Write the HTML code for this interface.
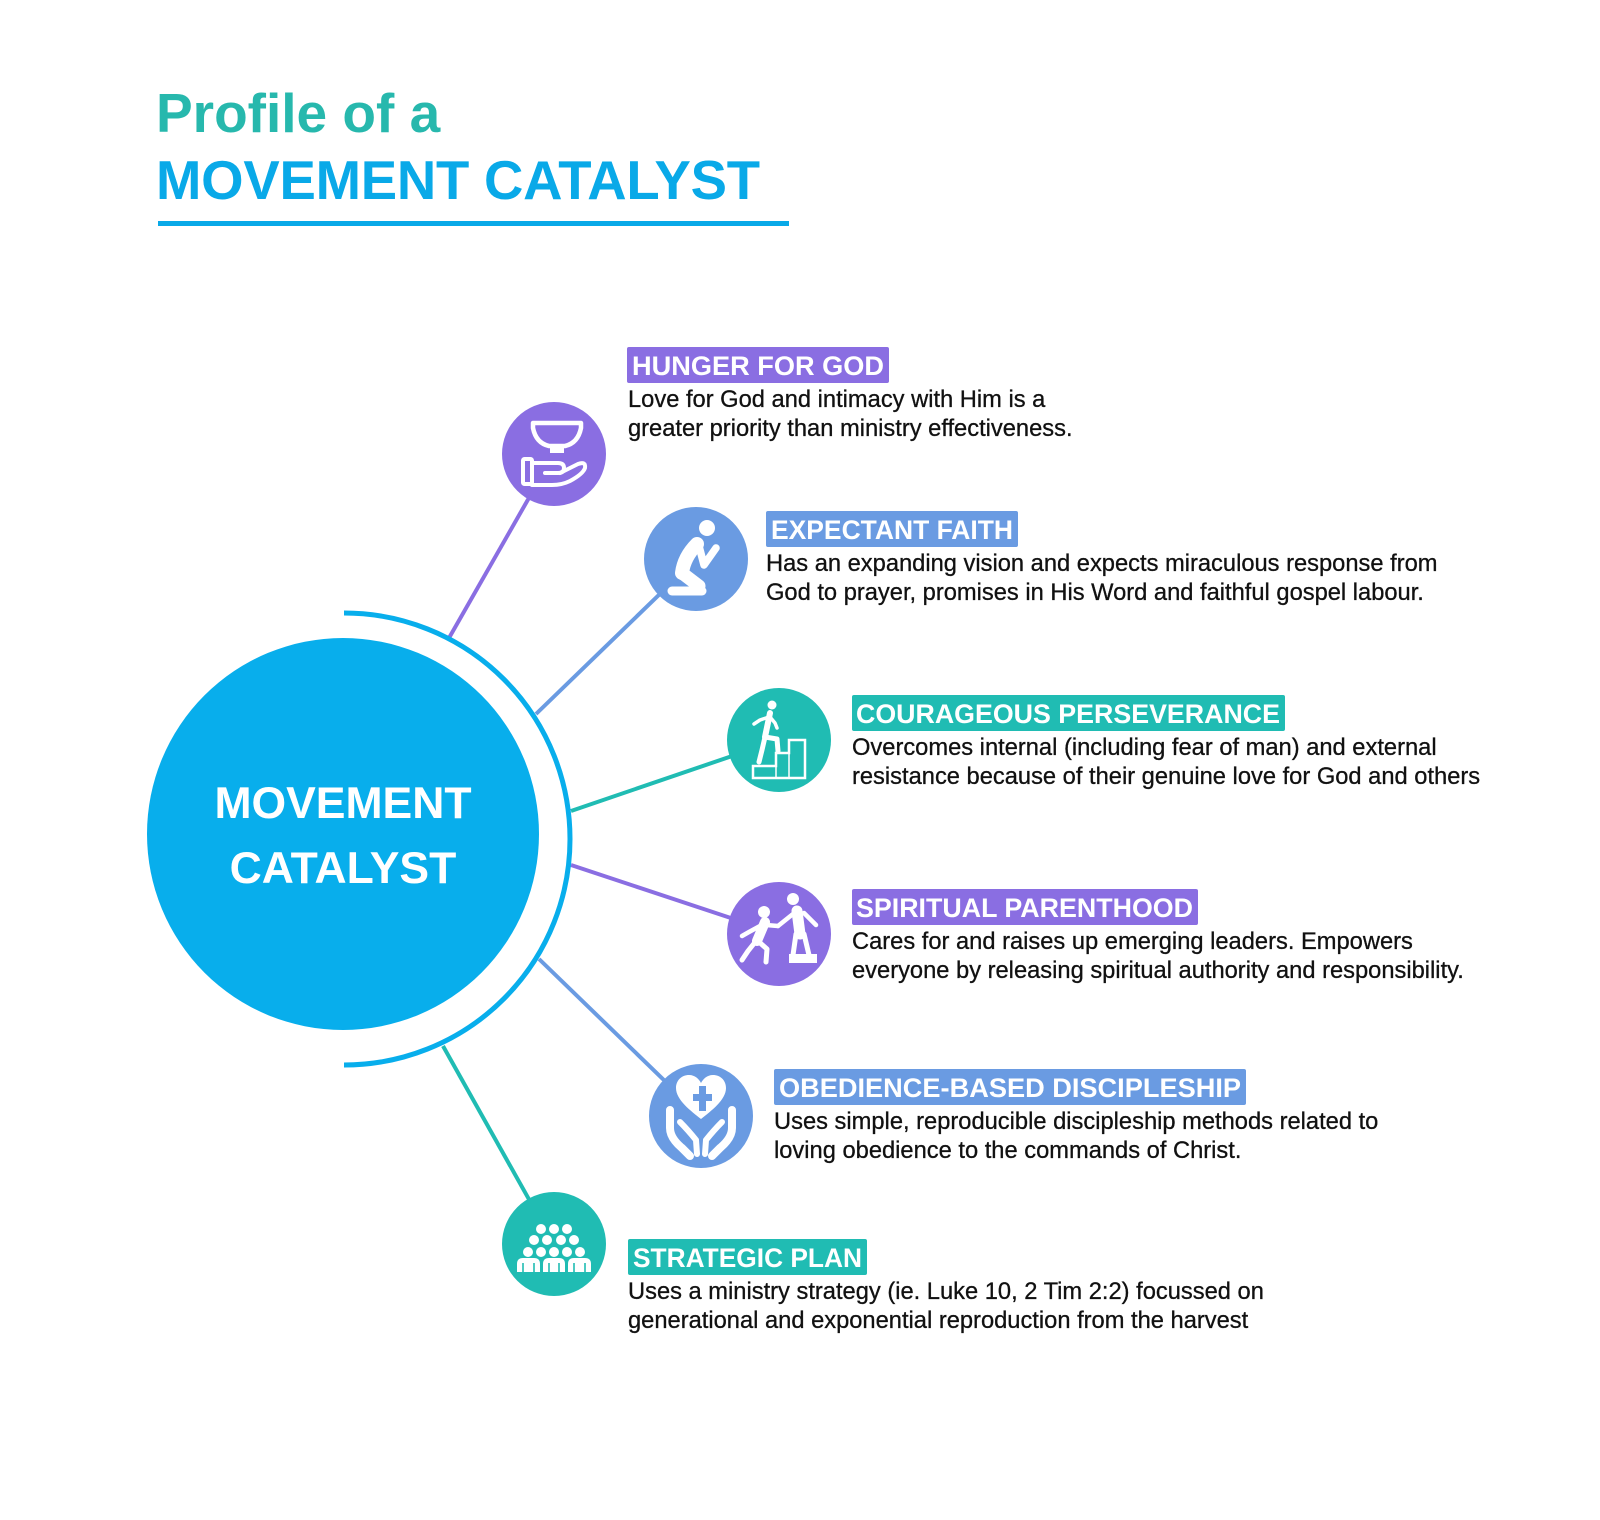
<!DOCTYPE html>
<html>
<head>
<meta charset="utf-8">
<style>
html,body{margin:0;padding:0;background:#fff;}
svg{display:block;}
text{font-family:"Liberation Sans",Arial,sans-serif;}
</style>
</head>
<body>
<svg width="1600" height="1520" viewBox="0 0 1600 1520" xmlns="http://www.w3.org/2000/svg">
<rect width="1600" height="1520" fill="#fff"/>

<!-- Title -->
<text x="156" y="132" font-size="55" font-weight="bold" fill="#27b8ad">Profile of a</text>
<text x="156" y="199" font-size="54.5" font-weight="bold" fill="#09a9e8" textLength="604" lengthAdjust="spacing">MOVEMENT CATALYST</text>
<rect x="158" y="221" width="631" height="5" fill="#09a9e8"/>

<!-- Connector lines -->
<g stroke-width="4" stroke-linecap="butt">
  <line x1="449" y1="638" x2="554" y2="454" stroke="#8a6ee2"/>
  <line x1="536" y1="714" x2="696" y2="559" stroke="#6a9be2"/>
  <line x1="571" y1="811" x2="779" y2="740" stroke="#20bcb3"/>
  <line x1="571" y1="865" x2="779" y2="934" stroke="#8a6ee2"/>
  <line x1="539" y1="959" x2="701" y2="1116" stroke="#6a9be2"/>
  <line x1="443" y1="1046" x2="554" y2="1244" stroke="#20bcb3"/>
</g>

<!-- Arc -->
<path d="M344,613 A226,226 0 0 1 344,1065" fill="none" stroke="#08aeec" stroke-width="5"/>

<!-- Main circle -->
<circle cx="343" cy="834" r="196" fill="#08aeec"/>
<text x="343" y="818" font-size="44.5" font-weight="bold" fill="#fff" text-anchor="middle">MOVEMENT</text>
<text x="343" y="883" font-size="44.5" font-weight="bold" fill="#fff" text-anchor="middle">CATALYST</text>

<!-- Icon 1: Hunger for God -->
<g transform="translate(554,454)">
  <circle r="52" fill="#8a6ee2"/>
  <path d="M-21,-31 H27 V-26 Q24,-11 11,-8 H-5 Q-18,-11 -21,-26 Z" fill="none" stroke="#fff" stroke-width="4.5" stroke-linejoin="round"/>
  <rect x="-4" y="-9" width="14" height="8" fill="#fff"/>
  <rect x="-31" y="5" width="9" height="25" rx="1.5" fill="none" stroke="#fff" stroke-width="4"/>
  <path d="M-22,9 H4 Q10,9 10,14 Q10,19 4,19 H-9" fill="none" stroke="#fff" stroke-width="4" stroke-linecap="round" stroke-linejoin="round"/>
  <path d="M6,19 L24,10 Q32,7 31,14 Q29,20 16,27 Q8,31 -2,31 H-22" fill="none" stroke="#fff" stroke-width="4" stroke-linecap="round" stroke-linejoin="round"/>
</g>

<!-- Icon 2: Expectant Faith (kneeling) -->
<g transform="translate(696,559)">
  <circle r="52" fill="#6a9be2"/>
  <circle cx="11" cy="-31" r="8" fill="#fff"/>
  <path d="M1,-15 Q-12,-2 -14,14" fill="none" stroke="#fff" stroke-width="14" stroke-linecap="round"/>
  <path d="M-14,14 L3,27" fill="none" stroke="#fff" stroke-width="13" stroke-linecap="round"/>
  <path d="M-24,32 L6,32" fill="none" stroke="#fff" stroke-width="9" stroke-linecap="round"/>
  <path d="M3,-13 L8,6 L20,-11" fill="none" stroke="#fff" stroke-width="7.5" stroke-linecap="round" stroke-linejoin="round"/>
</g>

<!-- Icon 3: Courageous Perseverance (stairs) -->
<g transform="translate(779,740)">
  <circle r="52" fill="#20bcb3"/>
  <path d="M-26,38 H26 V0 H10 V13 H-3 V26 H-26 Z" fill="none" stroke="#fff" stroke-width="2.5" stroke-linejoin="miter"/>
  <path d="M10,13 V38 M-3,26 V38" fill="none" stroke="#fff" stroke-width="1.5"/>
  <circle cx="-7" cy="-35" r="4.5" fill="#fff"/>
  <path d="M-9,-27 L-14,-3" fill="none" stroke="#fff" stroke-width="6" stroke-linecap="round"/>
  <path d="M-14,-3 L-17,10 L-20,22" fill="none" stroke="#fff" stroke-width="5" stroke-linecap="round" stroke-linejoin="round"/>
  <path d="M-14,-3 L-2,-1 L-1,11" fill="none" stroke="#fff" stroke-width="5" stroke-linecap="round" stroke-linejoin="round"/>
  <path d="M-10,-23 L-19,-20 L-25,-16 M-9,-23 L-4,-17 L-2,-12" fill="none" stroke="#fff" stroke-width="3.5" stroke-linecap="round" stroke-linejoin="round"/>
</g>

<!-- Icon 4: Spiritual Parenthood -->
<g transform="translate(779,934)">
  <circle r="52" fill="#8a6ee2"/>
  <circle cx="14" cy="-35" r="6" fill="#fff"/>
  <path d="M18,-23 L21,0" fill="none" stroke="#fff" stroke-width="11" stroke-linecap="round"/>
  <path d="M25,-21 L37,-9" fill="none" stroke="#fff" stroke-width="4.5" stroke-linecap="round"/>
  <path d="M14,-20 L-1,-8" fill="none" stroke="#fff" stroke-width="4.5" stroke-linecap="round"/>
  <path d="M17,0 L14,21 M25,0 L30,21" fill="none" stroke="#fff" stroke-width="5" stroke-linecap="round"/>
  <rect x="10" y="20" width="28" height="9" fill="#fff"/>
  <circle cx="-15" cy="-22" r="6" fill="#fff"/>
  <path d="M-14,-12 L-22,7" fill="none" stroke="#fff" stroke-width="10" stroke-linecap="round"/>
  <path d="M-13,-9 L-1,-8" fill="none" stroke="#fff" stroke-width="4.5" stroke-linecap="round"/>
  <path d="M-19,-8 L-30,-2 L-37,2" fill="none" stroke="#fff" stroke-width="4.5" stroke-linecap="round" stroke-linejoin="round"/>
  <path d="M-23,7 L-31,17 L-37,26" fill="none" stroke="#fff" stroke-width="5" stroke-linecap="round" stroke-linejoin="round"/>
  <path d="M-20,8 L-12,15 L-13,28" fill="none" stroke="#fff" stroke-width="5" stroke-linecap="round" stroke-linejoin="round"/>
</g>

<!-- Icon 5: Obedience-based discipleship -->
<g transform="translate(701,1116)">
  <circle r="52" fill="#6a9be2"/>
  <path d="M0,3 C-10,-5 -25,-16 -25,-28 C-25,-36 -19,-41 -12,-41 C-6,-41 -2,-37 0,-33 C2,-37 6,-41 12,-41 C19,-41 25,-36 25,-28 C25,-16 10,-5 0,3 Z" fill="#fff"/>
  <rect x="-2" y="-30" width="7" height="25" fill="#6a9be2"/>
  <rect x="-8" y="-22" width="19" height="7" fill="#6a9be2"/>
  <g fill="none" stroke="#fff" stroke-linecap="round" stroke-linejoin="round">
    <path d="M-31,-6 V12 Q-31,22 -19,32 L-11,40" stroke-width="8"/>
    <path d="M-21,6 Q-13,14 -5,24 L-4,38" stroke-width="6"/>
    <path d="M31,-6 V12 Q31,22 19,32 L11,40" stroke-width="8"/>
    <path d="M21,6 Q13,14 5,24 L4,38" stroke-width="6"/>
  </g>
</g>

<!-- Icon 6: Strategic Plan (crowd) -->
<g transform="translate(554,1244)" fill="#fff">
  <circle r="52" fill="#20bcb3"/>
  <circle cx="-13" cy="-15" r="5"/><circle cx="0" cy="-15" r="5"/><circle cx="13" cy="-15" r="5"/>
  <circle cx="-20" cy="-4" r="5"/><circle cx="-7" cy="-4" r="5"/><circle cx="7" cy="-4" r="5"/><circle cx="20" cy="-4" r="5"/>
  <circle cx="-26" cy="8" r="5"/><circle cx="-13" cy="8" r="5"/><circle cx="0" cy="8" r="5"/><circle cx="13" cy="8" r="5"/><circle cx="26" cy="8" r="5"/>
  <path d="M-37,28 V20 Q-37,14 -31,14 H-20 Q-14,14 -14,20 V28 Z"/>
  <path d="M-11,28 V20 Q-11,14 -5,14 H5 Q11,14 11,20 V28 Z"/>
  <path d="M14,28 V20 Q14,14 20,14 H31 Q37,14 37,20 V28 Z"/>
  <g stroke="#20bcb3" stroke-width="1.6">
    <line x1="-31" y1="19" x2="-31" y2="28"/><line x1="-20" y1="19" x2="-20" y2="28"/>
    <line x1="-5" y1="19" x2="-5" y2="28"/><line x1="5" y1="19" x2="5" y2="28"/>
    <line x1="20" y1="19" x2="20" y2="28"/><line x1="31" y1="19" x2="31" y2="28"/>
  </g>
</g>

<!-- Labels -->
<g font-weight="bold" font-size="26.8" fill="#fff">
  <rect x="627" y="347" width="262" height="36" rx="2" fill="#8a6ee2"/>
  <text x="632" y="375" textLength="252" lengthAdjust="spacingAndGlyphs">HUNGER FOR GOD</text>

  <rect x="766" y="511" width="252" height="36" rx="2" fill="#6a9be2"/>
  <text x="771" y="539" textLength="242" lengthAdjust="spacingAndGlyphs">EXPECTANT FAITH</text>

  <rect x="852" y="695" width="433" height="36" rx="2" fill="#20bcb3"/>
  <text x="856" y="723" textLength="424" lengthAdjust="spacingAndGlyphs">COURAGEOUS PERSEVERANCE</text>

  <rect x="852" y="889" width="346" height="36" rx="2" fill="#8a6ee2"/>
  <text x="856" y="917" textLength="337" lengthAdjust="spacingAndGlyphs">SPIRITUAL PARENTHOOD</text>

  <rect x="774" y="1069" width="472" height="36" rx="2" fill="#6a9be2"/>
  <text x="779" y="1097" textLength="462" lengthAdjust="spacingAndGlyphs">OBEDIENCE-BASED DISCIPLESHIP</text>

  <rect x="628" y="1239" width="239" height="36" rx="2" fill="#20bcb3"/>
  <text x="633" y="1267" textLength="229" lengthAdjust="spacingAndGlyphs">STRATEGIC PLAN</text>
</g>

<!-- Descriptions -->
<g font-size="23.7" fill="#111" stroke="#111" stroke-width="0.3">
  <text x="628" y="407">Love for God and intimacy with Him is a</text>
  <text x="628" y="436">greater priority than ministry effectiveness.</text>

  <text x="766" y="571">Has an expanding vision and expects miraculous response from</text>
  <text x="766" y="600">God to prayer, promises in His Word and faithful gospel labour.</text>

  <text x="852" y="755">Overcomes internal (including fear of man) and external</text>
  <text x="852" y="784">resistance because of their genuine love for God and others</text>

  <text x="852" y="949">Cares for and raises up emerging leaders. Empowers</text>
  <text x="852" y="978">everyone by releasing spiritual authority and responsibility.</text>

  <text x="774" y="1129">Uses simple, reproducible discipleship methods related to</text>
  <text x="774" y="1158">loving obedience to the commands of Christ.</text>

  <text x="628" y="1299">Uses a ministry strategy (ie. Luke 10, 2 Tim 2:2) focussed on</text>
  <text x="628" y="1328">generational and exponential reproduction from the harvest</text>
</g>
</svg>
</body>
</html>
